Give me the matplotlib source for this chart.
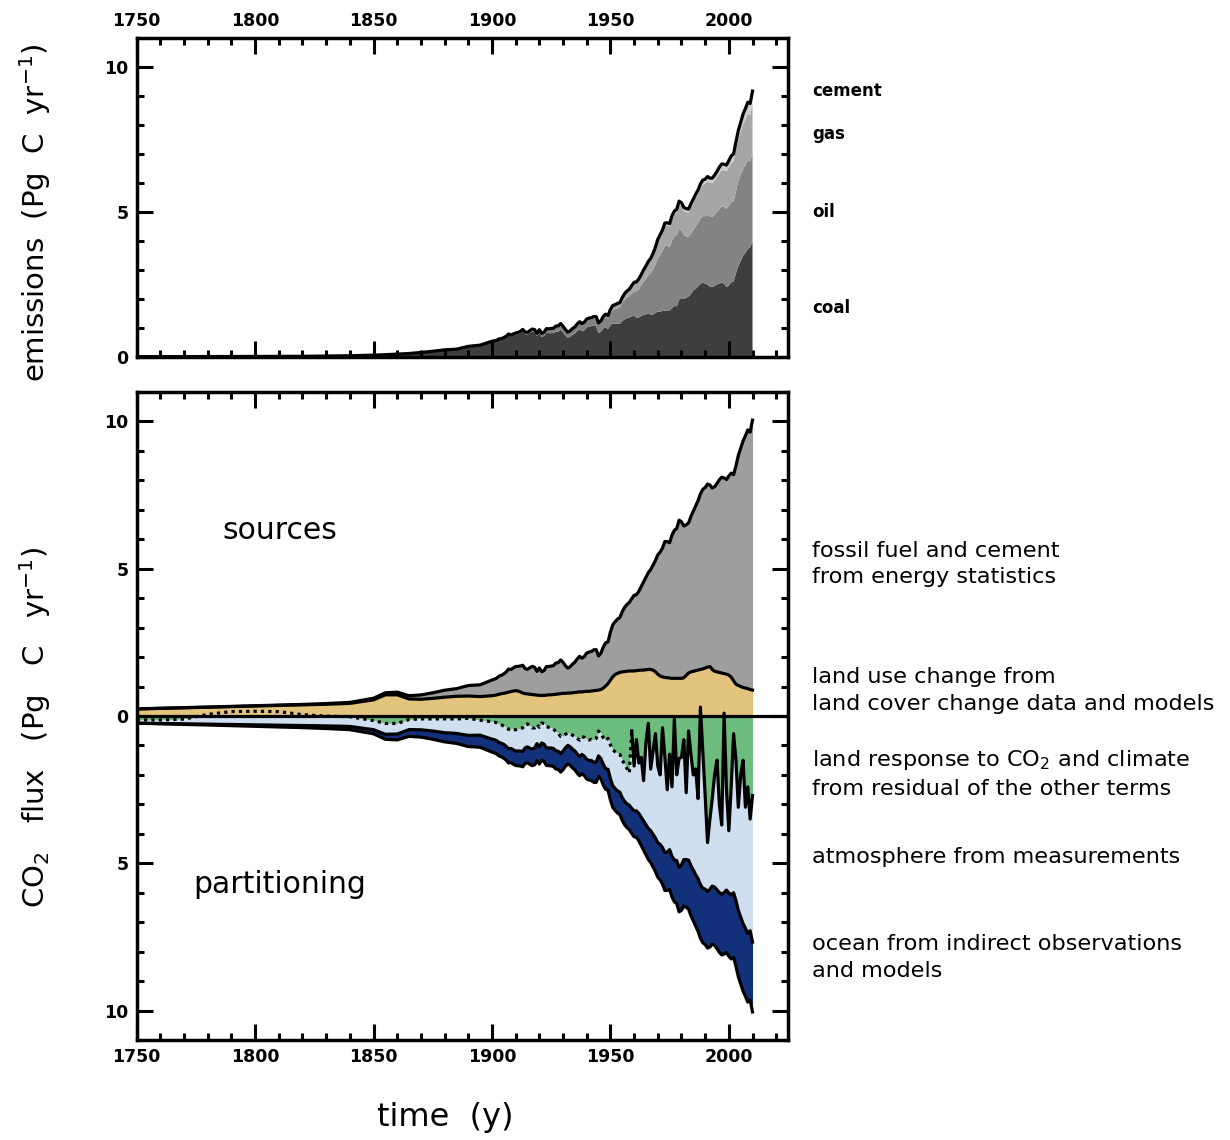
import numpy as np
import matplotlib
matplotlib.use("Agg")
import matplotlib.pyplot as plt
from matplotlib.ticker import MultipleLocator, FuncFormatter
import matplotlib.transforms as mtransforms

# ---------------------------------------------------------------------------
# Year grid: decadal to 1850, five-yearly to 1900, annual 1901-2010
years = list(range(1750, 1851, 10)) + list(range(1855, 1901, 5)) + list(range(1901, 2011))

# Fossil fuel and cement emissions by source (Pg C / yr)
coal_early = [0.003, 0.003, 0.004, 0.005, 0.007, 0.008, 0.010, 0.014, 0.024, 0.033, 0.054,
              0.070, 0.091, 0.110, 0.146, 0.186, 0.233, 0.255, 0.346, 0.385, 0.507]
oil_early = [0, 0, 0, 0, 0, 0, 0, 0, 0, 0, 0,
             0, 0, 0, 0.001, 0.002, 0.003, 0.005, 0.009, 0.012, 0.019]
gas_early = [0, 0, 0, 0, 0, 0, 0, 0, 0, 0, 0,
             0, 0, 0, 0, 0, 0, 0, 0.001, 0.003, 0.004]
cement_early = [0, 0, 0, 0, 0, 0, 0, 0, 0, 0, 0,
                0, 0, 0, 0, 0, 0, 0, 0, 0, 0.004]

coal_annual = [
    0.523, 0.536, 0.584, 0.587, 0.625, 0.669, 0.740, 0.702, 0.736, 0.765,
    0.779, 0.816, 0.875, 0.780, 0.766, 0.823, 0.871, 0.853, 0.716, 0.822,
    0.688, 0.718, 0.822, 0.811, 0.813, 0.815, 0.873, 0.865, 0.927, 0.838,
    0.735, 0.656, 0.689, 0.760, 0.798, 0.886, 0.943, 0.878, 0.910, 1.011,
    1.033, 1.055, 1.083, 1.046, 0.818, 0.863, 0.978, 1.013, 0.951, 1.079,
    1.145, 1.137, 1.142, 1.130, 1.226, 1.291, 1.328, 1.354, 1.389, 1.413,
    1.349, 1.352, 1.400, 1.441, 1.465, 1.484, 1.456, 1.458, 1.506, 1.558,
    1.555, 1.579, 1.589, 1.603, 1.591, 1.672, 1.758, 1.733, 1.956, 2.026,
    1.990, 2.041, 2.066, 2.163, 2.289, 2.342, 2.421, 2.507, 2.557, 2.516,
    2.491, 2.406, 2.402, 2.447, 2.496, 2.514, 2.559, 2.516, 2.404, 2.462,
    2.568, 2.587, 2.874, 3.120, 3.304, 3.485, 3.585, 3.730, 3.776, 3.960]
oil_annual = [
    0.021, 0.022, 0.024, 0.027, 0.028, 0.027, 0.032, 0.035, 0.036, 0.039,
    0.042, 0.046, 0.050, 0.053, 0.055, 0.060, 0.066, 0.066, 0.072, 0.090,
    0.095, 0.105, 0.122, 0.124, 0.132, 0.136, 0.154, 0.162, 0.176, 0.172,
    0.166, 0.156, 0.168, 0.174, 0.186, 0.196, 0.214, 0.211, 0.226, 0.228,
    0.236, 0.222, 0.240, 0.268, 0.272, 0.300, 0.330, 0.362, 0.370, 0.423,
    0.479, 0.504, 0.533, 0.557, 0.625, 0.679, 0.714, 0.731, 0.789, 0.849,
    0.904, 0.980, 1.052, 1.137, 1.219, 1.323, 1.423, 1.551, 1.673, 1.839,
    1.947, 2.057, 2.240, 2.222, 2.199, 2.337, 2.400, 2.458, 2.474, 2.339,
    2.209, 2.113, 2.063, 2.089, 2.079, 2.158, 2.178, 2.256, 2.294, 2.334,
    2.415, 2.431, 2.414, 2.463, 2.505, 2.575, 2.633, 2.647, 2.699, 2.747,
    2.762, 2.769, 2.840, 2.930, 2.968, 2.999, 3.029, 3.035, 2.963, 3.061]
gas_annual = [
    0.004, 0.004, 0.004, 0.005, 0.005, 0.006, 0.006, 0.007, 0.007, 0.008,
    0.008, 0.009, 0.010, 0.010, 0.010, 0.011, 0.011, 0.011, 0.011, 0.012,
    0.012, 0.013, 0.016, 0.018, 0.019, 0.021, 0.023, 0.025, 0.029, 0.030,
    0.028, 0.026, 0.026, 0.028, 0.030, 0.033, 0.036, 0.036, 0.038, 0.042,
    0.046, 0.048, 0.052, 0.057, 0.060, 0.062, 0.069, 0.077, 0.081, 0.110,
    0.124, 0.133, 0.142, 0.152, 0.164, 0.178, 0.196, 0.210, 0.238, 0.264,
    0.282, 0.305, 0.330, 0.360, 0.387, 0.418, 0.449, 0.487, 0.527, 0.578,
    0.622, 0.651, 0.690, 0.702, 0.711, 0.752, 0.760, 0.780, 0.820, 0.830,
    0.832, 0.838, 0.840, 0.900, 0.940, 0.970, 1.010, 1.050, 1.090, 1.120,
    1.150, 1.160, 1.170, 1.170, 1.200, 1.250, 1.250, 1.270, 1.290, 1.330,
    1.360, 1.390, 1.430, 1.460, 1.500, 1.530, 1.570, 1.630, 1.590, 1.700]
cement_annual = [
    0.004, 0.004, 0.005, 0.005, 0.005, 0.005, 0.006, 0.006, 0.006, 0.007,
    0.007, 0.008, 0.008, 0.007, 0.007, 0.007, 0.007, 0.006, 0.007, 0.008,
    0.008, 0.009, 0.010, 0.010, 0.011, 0.011, 0.012, 0.013, 0.013, 0.013,
    0.011, 0.009, 0.010, 0.011, 0.013, 0.015, 0.016, 0.017, 0.018, 0.018,
    0.019, 0.017, 0.016, 0.012, 0.010, 0.013, 0.015, 0.017, 0.017, 0.018,
    0.020, 0.022, 0.024, 0.026, 0.028, 0.030, 0.032, 0.035, 0.038, 0.043,
    0.045, 0.049, 0.051, 0.057, 0.059, 0.063, 0.065, 0.070, 0.074, 0.078,
    0.084, 0.089, 0.095, 0.096, 0.095, 0.103, 0.108, 0.116, 0.119, 0.120,
    0.121, 0.121, 0.125, 0.128, 0.131, 0.137, 0.143, 0.152, 0.156, 0.157,
    0.161, 0.167, 0.176, 0.186, 0.197, 0.203, 0.209, 0.210, 0.217, 0.226,
    0.237, 0.250, 0.272, 0.297, 0.321, 0.356, 0.382, 0.388, 0.411, 0.446]

# Land use change emissions (Pg C / yr)
land_use_change = [
    0.24, 0.26, 0.28, 0.30, 0.32, 0.34, 0.36, 0.38, 0.40, 0.43, 0.55,
    0.72, 0.72, 0.58, 0.57, 0.60, 0.64, 0.67, 0.68, 0.66, 0.69,
    0.70, 0.72, 0.74, 0.76, 0.77, 0.79, 0.81, 0.83, 0.85, 0.86,
    0.85, 0.82, 0.78, 0.76, 0.75, 0.74, 0.73, 0.72, 0.71, 0.70,
    0.70, 0.70, 0.71, 0.72, 0.72, 0.73, 0.74, 0.75, 0.76, 0.77,
    0.77, 0.78, 0.78, 0.79, 0.80, 0.81, 0.82, 0.82, 0.83, 0.84,
    0.84, 0.85, 0.86, 0.87, 0.88, 0.90, 0.95, 1.02, 1.10, 1.22,
    1.33, 1.41, 1.45, 1.48, 1.50, 1.51, 1.52, 1.53, 1.53, 1.53,
    1.54, 1.55, 1.56, 1.56, 1.57, 1.58, 1.58, 1.56, 1.50, 1.42,
    1.36, 1.33, 1.31, 1.30, 1.29, 1.28, 1.28, 1.28, 1.28, 1.28,
    1.30, 1.38, 1.46, 1.50, 1.52, 1.54, 1.56, 1.58, 1.60, 1.63,
    1.66, 1.68, 1.58, 1.52, 1.50, 1.48, 1.46, 1.44, 1.42, 1.39,
    1.32, 1.20, 1.08, 1.04, 1.00, 0.97, 0.95, 0.93, 0.90, 0.88]

# Atmospheric growth (ice cores before 1959, direct measurements after)
atmosphere = [
    0.11, 0.12, 0.16, 0.33, 0.44, 0.46, 0.46, 0.37, 0.33, 0.33, 0.31,
    0.37, 0.36, 0.34, 0.37, 0.41, 0.47, 0.49, 0.58, 0.51, 0.59,
    0.60, 0.60, 0.61, 0.62, 0.62, 0.64, 0.66, 0.68, 0.70, 0.72,
    0.75, 0.78, 0.80, 0.80, 0.78, 0.75, 0.72, 0.68, 0.65, 0.66,
    0.68, 0.70, 0.72, 0.70, 0.68, 0.66, 0.65, 0.62, 0.58, 0.52,
    0.46, 0.42, 0.44, 0.47, 0.50, 0.53, 0.56, 0.60, 0.64, 0.67,
    0.69, 0.72, 0.76, 0.80, 0.84, 0.86, 0.90, 0.96, 1.05, 1.15,
    1.22, 1.25, 1.27, 1.28, 1.28, 1.25, 1.20, 1.10, 2.63, 1.52,
    2.42, 1.71, 2.03, 1.37, 2.78, 3.57, 2.09, 2.82, 3.54, 2.60,
    2.36, 4.07, 3.24, 2.11, 3.24, 2.36, 4.79, 2.91, 3.71, 3.65,
    4.07, 2.27, 4.39, 3.78, 3.23, 3.59, 2.72, 6.03, 4.65, 3.18,
    1.66, 2.38, 2.97, 3.81, 4.40, 2.99, 2.35, 6.09, 3.41, 2.11,
    3.68, 5.40, 4.77, 3.50, 4.82, 5.55, 4.11, 4.98, 3.79, 4.98]

# Ocean uptake (Pg C / yr)
ocean = [
    0.00, 0.01, 0.02, 0.03, 0.04, 0.05, 0.06, 0.07, 0.09, 0.11, 0.14,
    0.17, 0.20, 0.23, 0.25, 0.28, 0.31, 0.34, 0.38, 0.41, 0.44,
    0.45, 0.45, 0.46, 0.46, 0.47, 0.47, 0.48, 0.48, 0.49, 0.49,
    0.50, 0.51, 0.52, 0.53, 0.54, 0.55, 0.56, 0.57, 0.58, 0.59,
    0.59, 0.59, 0.60, 0.60, 0.61, 0.61, 0.62, 0.62, 0.63, 0.63,
    0.63, 0.63, 0.63, 0.64, 0.64, 0.65, 0.65, 0.66, 0.66, 0.67,
    0.67, 0.68, 0.68, 0.69, 0.69, 0.69, 0.70, 0.70, 0.71, 0.72,
    0.73, 0.74, 0.75, 0.76, 0.77, 0.79, 0.81, 0.83, 0.85, 0.88,
    0.90, 0.93, 0.96, 0.99, 1.02, 1.05, 1.08, 1.11, 1.14, 1.17,
    1.21, 1.24, 1.28, 1.31, 1.35, 1.38, 1.42, 1.46, 1.50, 1.54,
    1.58, 1.62, 1.66, 1.70, 1.73, 1.76, 1.79, 1.82, 1.85, 1.88,
    1.92, 1.96, 1.97, 1.98, 2.00, 2.03, 2.06, 2.09, 2.12, 2.15,
    2.17, 2.20, 2.23, 2.25, 2.27, 2.29, 2.31, 2.33, 2.35, 2.37]

first_measured_year = 1959

fuel_labels = ["cement", "gas", "oil", "coal"]
fuel_label_y = [9.18, 7.69, 4.98, 1.69]

flux_labels = [
    ("fossil fuel and cement", 5.62),
    ("from energy statistics", 4.71),
    ("land use change from", 1.32),
    ("land cover change data and models", 0.41),
    (r"land response to CO$_2$ and climate", -1.49),
    ("from residual of the other terms", -2.47),
    ("atmosphere from measurements", -4.77),
    ("ocean from indirect observations", -7.75),
    ("and models", -8.67),
]

# ---------------------------------------------------------------------------
x = np.array(years, dtype=float)
coal = np.array(coal_early + coal_annual)
oil = np.array(oil_early + oil_annual)
gas = np.array(gas_early + gas_annual)
cement = np.array(cement_early + cement_annual)
fossil = coal + oil + gas + cement
luc = np.array(land_use_change)
atm = np.array(atmosphere)
ocn = np.array(ocean)
sources = fossil + luc
land = sources - atm - ocn          # residual land sink

LW = 2.3
plt.rcParams["font.family"] = ["DejaVu Sans"]
plt.rcParams["mathtext.default"] = "regular"
fig = plt.figure(figsize=(12.3, 11.4), dpi=100)
ax1 = fig.add_axes([0.1111, 0.6871, 0.5296, 0.2796])
ax2 = fig.add_axes([0.1111, 0.0877, 0.5296, 0.5684])

# ---- emissions by fuel ----------------------------------------------------
ax1.stackplot(x, coal, oil, gas, cement,
              colors=["#3e3e3e", "#838383", "#a6a6a6", "#cdcdcd"], lw=0)
ax1.plot(x, fossil, color="black", lw=LW)
ax1.set_ylim(0, 11)

# ---- sources and partitioning ---------------------------------------------
b1 = -land
b2 = -(land + atm)
b3 = -sources
ax2.fill_between(x, 0, b1, color="#6dbd7e", lw=0, zorder=1)
ax2.fill_between(x, b1, b2, color="#cfdff0", lw=0, zorder=1)
ax2.fill_between(x, b2, b3, color="#13307a", lw=0, zorder=1)
ax2.fill_between(x, 0, luc, color="#e2c47f", lw=0, zorder=2)
ax2.fill_between(x, luc, sources, color="#9e9e9e", lw=0, zorder=2)

ax2.plot(x, sources, color="black", lw=LW, zorder=4)
ax2.plot(x, luc, color="black", lw=LW, zorder=4)
ax2.plot(x, b2, color="black", lw=LW, zorder=4)
ax2.plot(x, b3, color="black", lw=LW, zorder=4)
est = x <= first_measured_year
meas = x >= first_measured_year
ax2.plot(x[est], b1[est], color="black", lw=LW, ls=(0, (1, 1.3)), zorder=4)
ax2.plot(x[meas], b1[meas], color="black", lw=LW, zorder=4)
ax2.axhline(0, color="black", lw=LW, zorder=5)
ax2.set_ylim(-11, 11)

ax2.text(1810.5, 6.3, "sources", fontsize=21.5, ha="center", va="center")
ax2.text(1810.5, -5.72, "partitioning", fontsize=21.5, ha="center", va="center")

# ---- axes styling ---------------------------------------------------------
for ax in (ax1, ax2):
    ax.set_xlim(1750, 2025)
    ax.xaxis.set_major_locator(MultipleLocator(50))
    ax.xaxis.set_minor_locator(MultipleLocator(10))
    ax.yaxis.set_major_locator(MultipleLocator(5))
    ax.yaxis.set_minor_locator(MultipleLocator(1))
    ax.tick_params(which="both", direction="in", top=True, right=True,
                   width=2.2, labelsize=12.5, pad=6)
    ax.tick_params(which="major", length=11.5)
    ax.tick_params(which="minor", length=5)
    for s in ax.spines.values():
        s.set_linewidth(2.5)

ax1.tick_params(axis="x", labeltop=True, labelbottom=False)
ax2.yaxis.set_major_formatter(FuncFormatter(lambda v, p: f"{abs(v):g}"))

for ax in (ax1, ax2):
    for axis in (ax.xaxis, ax.yaxis):
        for tk in axis.get_major_ticks():
            tk.label1.set_fontweight("bold")
            tk.label2.set_fontweight("bold")

# ---- labels ----------------------------------------------------------------
tr1 = mtransforms.blended_transform_factory(ax1.transAxes, ax1.transData)
for name, yv in zip(fuel_labels, fuel_label_y):
    ax1.text(1.037, yv, name, transform=tr1, fontsize=12, fontweight="bold",
             ha="left", va="center")

tr2 = mtransforms.blended_transform_factory(ax2.transAxes, ax2.transData)
for txt, yv in flux_labels:
    ax2.text(1.037, yv, txt, transform=tr2, fontsize=16.1, ha="left", va="center")

fig.text(0.0285, 0.8136, r"emissions  (Pg  C  yr$^{-1}$)", rotation=90,
         fontsize=21, ha="center", va="center")
fig.text(0.0285, 0.3623, r"CO$_2$   flux   (Pg   C   yr$^{-1}$)", rotation=90,
         fontsize=21, ha="center", va="center")
fig.text(0.3618, 0.0193, "time  (y)", fontsize=23, ha="center", va="center")

fig.savefig("out.png", dpi=100)
